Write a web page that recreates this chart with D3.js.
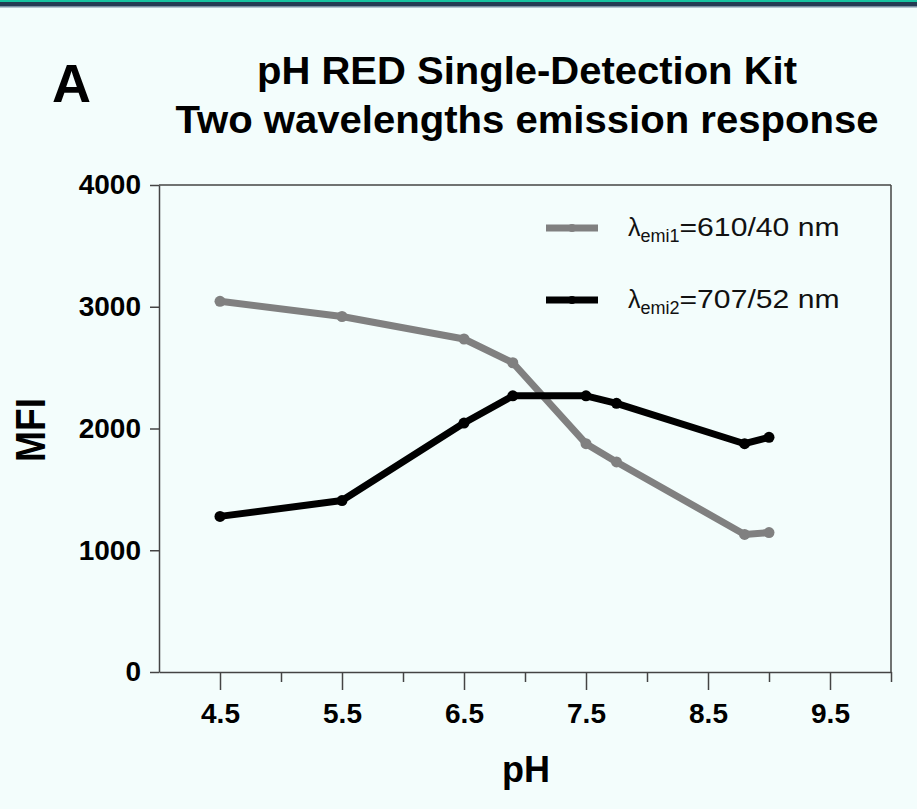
<!DOCTYPE html>
<html>
<head>
<meta charset="utf-8">
<script src="https://cdn.jsdelivr.net/npm/d3@7"></script>
<style>
  body { margin: 0; background: #f3fdfc; }
  svg { display: block; }
  text { font-family: "Liberation Sans", Arial, sans-serif; }
</style>
</head>
<body>
<div id="chart"></div>
<script>
// data
var phValues = [4.5, 5.5, 6.5, 6.9, 7.5, 7.75, 8.8, 9.0];
var emi1 = [3045, 2920, 2735, 2540, 1875, 1725, 1130, 1145]; // 610/40 nm (grey)
var emi2 = [1278, 1408, 2045, 2268, 2268, 2207, 1875, 1928]; // 707/52 nm (black)
var yTicks = [0, 1000, 2000, 3000, 4000];
var xMajor = [4.5, 5.5, 6.5, 7.5, 8.5, 9.5];
var xMinor = [5, 6, 7, 8, 9, 10];

var W = 917, H = 809;
var margin = {top: 185, right: 26, bottom: 137, left: 159};
var width = W - margin.left - margin.right,
    height = H - margin.top - margin.bottom;

var svg = d3.select("#chart").append("svg")
  .attr("width", W).attr("height", H);

// top stripe
svg.append("rect").attr("x", 0).attr("y", 0).attr("width", W).attr("height", 2).attr("fill", "#17c3a0");
svg.append("rect").attr("x", 0).attr("y", 2).attr("width", W).attr("height", 4).attr("fill", "#243b53");
svg.append("rect").attr("x", 0).attr("y", 6).attr("width", W).attr("height", 1.5).attr("fill", "#7b8fa3");

// panel letter + title
svg.append("text").attr("x", 52).attr("y", 102)
  .style("font-size", "54px").attr("font-weight", "bold").text("A");

var title = svg.append("text").attr("text-anchor", "middle")
  .style("font-size", "38px").attr("font-weight", "bold");
title.append("tspan").attr("x", 527).attr("y", 84)
  .attr("textLength", 540).attr("lengthAdjust", "spacingAndGlyphs")
  .text("pH RED Single-Detection Kit");
title.append("tspan").attr("x", 527).attr("y", 133)
  .attr("textLength", 703).attr("lengthAdjust", "spacingAndGlyphs")
  .text("Two wavelengths emission response");

var g = svg.append("g").attr("transform", "translate(" + margin.left + "," + margin.top + ")");

var x = d3.scaleLinear().domain([4, 10]).range([0, width]);
var y = d3.scaleLinear().domain([0, 4000]).range([height, 0]);

var axisColor = "#444";

// frame top + right
g.append("line").attr("x1", 0).attr("x2", width).attr("y1", 0).attr("y2", 0)
  .attr("stroke", axisColor).attr("stroke-width", 1.5);
g.append("line").attr("x1", width).attr("x2", width).attr("y1", 0).attr("y2", height)
  .attr("stroke", axisColor).attr("stroke-width", 1.5);

// y axis
g.append("g")
  .call(d3.axisLeft(y).tickValues(yTicks).tickFormat(d3.format("d")).tickSize(9).tickSizeOuter(0).tickPadding(9));

// x axis, major ticks with labels
g.append("g").attr("transform", "translate(0," + height + ")")
  .call(d3.axisBottom(x).tickValues(xMajor).tickFormat(d3.format(".1f")).tickSize(18).tickSizeOuter(0).tickPadding(13));

// minor ticks
g.append("g").attr("transform", "translate(0," + height + ")")
  .call(d3.axisBottom(x).tickValues(xMinor).tickFormat("").tickSize(10).tickSizeOuter(0))
  .select(".domain").remove();

g.selectAll(".domain, .tick line").attr("stroke", axisColor).attr("stroke-width", 1.5);
g.selectAll(".tick text")
  .style("font-size", "28px").style("font-weight", "bold")
  .style("font-family", "'Liberation Sans', Arial, sans-serif")
  .attr("fill", "#000");

// axis titles
svg.append("text").attr("x", 526).attr("y", 782).attr("text-anchor", "middle")
  .style("font-size", "36px").attr("font-weight", "bold").text("pH");
svg.append("text").attr("transform", "translate(45,430) rotate(-90)").attr("text-anchor", "middle")
  .style("font-size", "42px").attr("font-weight", "bold")
  .attr("textLength", 64).attr("lengthAdjust", "spacingAndGlyphs").text("MFI");

// series
var series = [
  {name: "1", label: "=610/40 nm", values: emi1, color: "#808080"},
  {name: "2", label: "=707/52 nm", values: emi2, color: "#000000"}
];

var line = d3.line()
  .x(function(d) { return x(d[0]); })
  .y(function(d) { return y(d[1]); });

series.forEach(function(s) {
  var pts = phValues.map(function(p, i) { return [p, s.values[i]]; });
  g.append("path").datum(pts)
    .attr("d", line)
    .attr("fill", "none")
    .attr("stroke", s.color)
    .attr("stroke-width", 7)
    .attr("stroke-linejoin", "round");
  g.selectAll(".pt" + s.name).data(pts).enter().append("circle")
    .attr("cx", function(d) { return x(d[0]); })
    .attr("cy", function(d) { return y(d[1]); })
    .attr("r", 5.5)
    .attr("fill", s.color);
});

// legend
var legend = svg.append("g");
series.forEach(function(s, i) {
  var ly = 228 + i * 72;
  legend.append("line").attr("x1", 546).attr("x2", 598).attr("y1", ly).attr("y2", ly)
    .attr("stroke", s.color).attr("stroke-width", 7);
  legend.append("circle").attr("cx", 572).attr("cy", ly).attr("r", 4).attr("fill", s.color);
  var t = legend.append("text").attr("x", 628).attr("y", ly + 8)
    .style("font-size", "25px").attr("fill", "#111");
  t.append("tspan").text("λ");
  t.append("tspan").style("font-size", "18px").attr("dy", 6).text("emi" + s.name);
  t.append("tspan").attr("dy", -6).attr("textLength", 160).attr("lengthAdjust", "spacingAndGlyphs").text(s.label);
});
</script>
</body>
</html>
